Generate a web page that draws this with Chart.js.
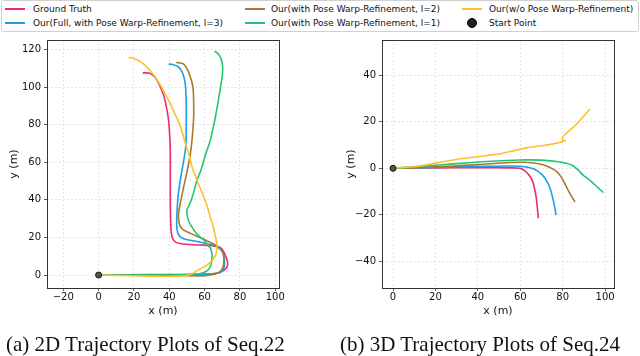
<!DOCTYPE html>
<html>
<head>
<meta charset="utf-8">
<script src="https://cdn.jsdelivr.net/npm/chart.js@4"></script>
<style>
  body { margin: 0; width: 640px; height: 356px; background: #fff; position: relative; overflow: hidden; }
  canvas { position: absolute; top: 0; }
  #legend { position: absolute; left: 1px; top: 0; width: 636px; height: 30px; border: 1px solid #d0d0d0; border-radius: 3px;
            font-family: "DejaVu Sans"; font-size: 9px; color: #111; background: #fff; }
  .item { position: absolute; height: 12px; line-height: 12px; white-space: nowrap; }
  .sw { position: absolute; top: 5px; width: 20px; height: 2px; }
  .txt { position: absolute; top: 0; }
  .dot { position: absolute; top: 1px; width: 8px; height: 8px; border-radius: 50%; background: #222; border: 1px solid #000; }
  .cap { position: absolute; top: 332px; font-family: "Liberation Serif"; font-size: 21px; color: #111; white-space: nowrap; }
</style>
</head>
<body>
<div id="legend"></div>
<canvas id="c22" width="320" height="356" style="left:0"></canvas>
<canvas id="c24" width="320" height="356" style="left:320px"></canvas>
<div class="cap" style="left:6px">(a) 2D Trajectory Plots of Seq.22</div>
<div class="cap" style="left:340px">(b) 3D Trajectory Plots of Seq.24</div>
<script>
// series names and colours
const seriesNames = ['Ground Truth', 'Our(Full, with Pose Warp-Refinement, l=3)', 'Our(with Pose Warp-Refinement, l=2)',
  'Our(with Pose Warp-Refinement, l=1)', 'Our(w/o Pose Warp-Refinement)'];
const seriesColors = ['#ee2c6b', '#1c9fe6', '#a87a2c', '#20c672', '#fdc02f'];
const startPoint = [[0, 0]];

// Seq.22 trajectories, [x, y] in metres
const seq22Gt = [[0,0],[30,0.2],[55,0.3],[64,0.6],[69,1.5],[72.5,4],[73,7],[71.5,11],[69.5,14.2],[65,15.5],[57,16],[48,16.5],
  [43.5,17.5],[41.5,20.5],[40.8,28],[40.6,40],[40.6,55],[40.6,66],[40,78],[39.2,85],[37,95],[34.5,101],[32,105],[29,107.3],[25,107.5]];
const seq22L3 = [[0,0],[30,0.1],[55,0.2],[64,0.6],[69,1.5],[71,4],[71.2,9],[70,12.5],[67.5,14.8],[62,16.5],[55,18],[48.5,19.2],
  [45.5,21],[44.3,25],[44.3,32],[45,42],[46.5,52],[48,60],[49.3,68],[49.6,80],[49.6,92],[49,102],[47.5,107.5],[45,110.8],[42,112],[39.6,112.2]];
const seq22L2 = [[0,0],[30,0],[50,-0.3],[60,-0.4],[66,0.5],[69.5,2.5],[70.8,6],[70.6,11],[68.5,14.5],[63,17.5],[56,20.5],[50,23],
  [47,24.8],[45.5,28],[45.3,33],[46.2,38],[47.5,44],[49,50.5],[50.5,57],[52,64.7],[53,73],[53.8,84],[53.8,92],[53.4,100],[52,105],
  [50.5,108.8],[48,112.3],[44,113.1]];
const seq22L1 = [[0,0],[30,0],[50,0.2],[57,0.7],[61,2],[63.2,4.4],[64.2,9],[63.8,13],[62,16],[59,19],[55.5,22],[52.5,26],[50.5,30],
  [50,34.6],[51.5,37.5],[53.5,43],[55.7,50.5],[58,56],[60.5,64],[63,71],[65,79],[66.5,86],[67.8,93],[69,100],[70,106],[70.2,110.8],
  [69.5,114.5],[67.8,117.5],[65.7,119.1]];
const seq22NoRef = [[0,0],[25,-0.5],[45,-0.6],[52,0.3],[56,2.5],[61,5],[64.5,8],[66.6,11.5],[67,16],[66,21],[64.5,27],[62.8,32],
  [61,38],[58.5,44],[55.7,50.5],[53,57],[50.9,64.7],[48.5,72],[46,80],[43,86],[40.5,91.3],[37.5,96.5],[35,101],[31.5,106],[28,110],
  [24.5,113],[21,114.8],[17,115.8]];

// Seq.24 trajectories
const seq24Gt = [[0,0],[20,0.2],[40,0.3],[55,0.2],[59.8,0],[62,-1],[64,-2.8],[65.8,-5.5],[66.8,-9],[67.6,-13],[68.1,-17.5],[68.5,-21.5]];
const seq24L3 = [[0,0],[20,0.4],[40,0.8],[55,1],[62,0.7],[66.5,-0.3],[70,-2.5],[72.5,-5.5],[74.2,-9],[75.5,-13.5],[76.3,-17],[76.9,-20.1]];
const seq24L2 = [[0,0],[20,0.6],[40,1.6],[55,2.5],[62,2.6],[68,2.1],[73,0.8],[77.2,-1.4],[79.5,-4],[81.5,-7.5],[83.5,-11],[85.8,-14.5]];
const seq24L1 = [[0,0],[15,1],[28.3,1.9],[44,2.9],[59.8,3.6],[70,3.5],[78,2.8],[84.3,1.4],[87,-0.5],[89.5,-2.8],[93,-5.3],[96.5,-8.2],[99.2,-10.5]];
const seq24NoRef = [[0,0],[12.6,1],[28.3,3.6],[40,5],[50.4,6.2],[57,7.6],[63,8.8],[70,9.7],[75.6,10.5],[79,11.2],[81.2,12],[80,11.6],
  [80.3,13.8],[86,18.5],[92.9,25.5]];

// axis ticks
const seq22XTicks = [-20, 0, 20, 40, 60, 80, 100];
const seq22YTicks = [0, 20, 40, 60, 80, 100, 120];
const seq24XTicks = [0, 20, 40, 60, 80, 100];
const seq24YTicks = [-40, -20, 0, 20, 40];

// legend (html)
const legendPos = [[3, 2], [3, 16], [243, 2], [243, 16], [460, 2]];
const legend = document.getElementById('legend');
seriesNames.forEach((name, i) => {
  const it = document.createElement('div');
  it.className = 'item';
  it.style.left = legendPos[i][0] + 'px';
  it.style.top = legendPos[i][1] + 'px';
  it.innerHTML = '<span class="sw" style="left:0;background:' + seriesColors[i] + '"></span><span class="txt" style="left:' +
    (i < 2 ? 28 : i < 4 ? 26 : 27) + 'px">' + name + '</span>';
  legend.appendChild(it);
});
const sp = document.createElement('div');
sp.className = 'item';
sp.style.left = '465px'; sp.style.top = '16px';
sp.innerHTML = '<span class="dot" style="left:0"></span><span class="txt" style="left:22px">Start Point</span>';
legend.appendChild(sp);

const toXY = arr => arr.map(p => ({ x: p[0], y: p[1] }));

// draws the box around the plot area
const framePlugin = {
  id: 'frame',
  afterDraw(chart) {
    const a = chart.chartArea, ctx = chart.ctx;
    ctx.save();
    ctx.strokeStyle = '#333';
    ctx.lineWidth = 1;
    ctx.strokeRect(Math.round(a.left) + 0.5, Math.round(a.top) + 0.5, Math.round(a.right - a.left), Math.round(a.bottom - a.top));
    ctx.restore();
  }
};

function makeChart(id, series, xr, yr, xTicks, yTicks, pad, yAxisW) {
  const datasets = series.map((s, i) => ({
    data: toXY(s), borderColor: seriesColors[i], backgroundColor: seriesColors[i],
    showLine: true, pointRadius: 0, borderWidth: 1.6, tension: 0.3, order: 5 - i
  }));
  datasets.push({
    data: toXY(startPoint), pointRadius: 3, pointBorderWidth: 1, backgroundColor: '#555', borderColor: '#111', order: -1
  });
  const tickFmt = v => String(v).replace('-', '\u2212');
  const axis = (r, ticks, title, isX) => ({
    type: 'linear', min: r[0], max: r[1],
    afterBuildTicks: s => { s.ticks = ticks.map(v => ({ value: v })); },
    afterFit: s => { if (isX) s.height = 34; else s.width = yAxisW; },
    ticks: { callback: tickFmt, color: '#111', font: { family: 'DejaVu Sans', size: 10 }, padding: isX ? 0 : 3 },
    grid: { color: '#dedede', lineWidth: 0.8, tickLength: 3, tickColor: '#333', tickBorderDash: [] },
    border: { display: false, dash: [2, 2] },
    title: { display: true, text: title, color: '#111', font: { family: 'DejaVu Sans', size: 11 }, padding: { top: 4, bottom: 4 } }
  });
  return new Chart(document.getElementById(id), {
    type: 'scatter',
    data: { datasets },
    options: {
      responsive: false, animation: false,
      layout: { padding: pad },
      plugins: { legend: { display: false }, tooltip: { enabled: false } },
      scales: {
        x: axis(xr, xTicks, 'x (m)', true),
        y: axis(yr, yTicks, 'y (m)', false)
      }
    },
    plugins: [framePlugin]
  });
}

makeChart('c22', [seq22Gt, seq22L3, seq22L2, seq22L1, seq22NoRef], [-29.2, 102.1], [-6.9, 125],
  seq22XTicks, seq22YTicks, { left: 4, top: 40, right: 41, bottom: 34 }, 43);
makeChart('c24', [seq24Gt, seq24L3, seq24L2, seq24L1, seq24NoRef], [-5.2, 104.2], [-51.5, 55.2],
  seq24XTicks, seq24YTicks, { left: 21, top: 40, right: 26, bottom: 34 }, 41);
</script>
</body>
</html>
